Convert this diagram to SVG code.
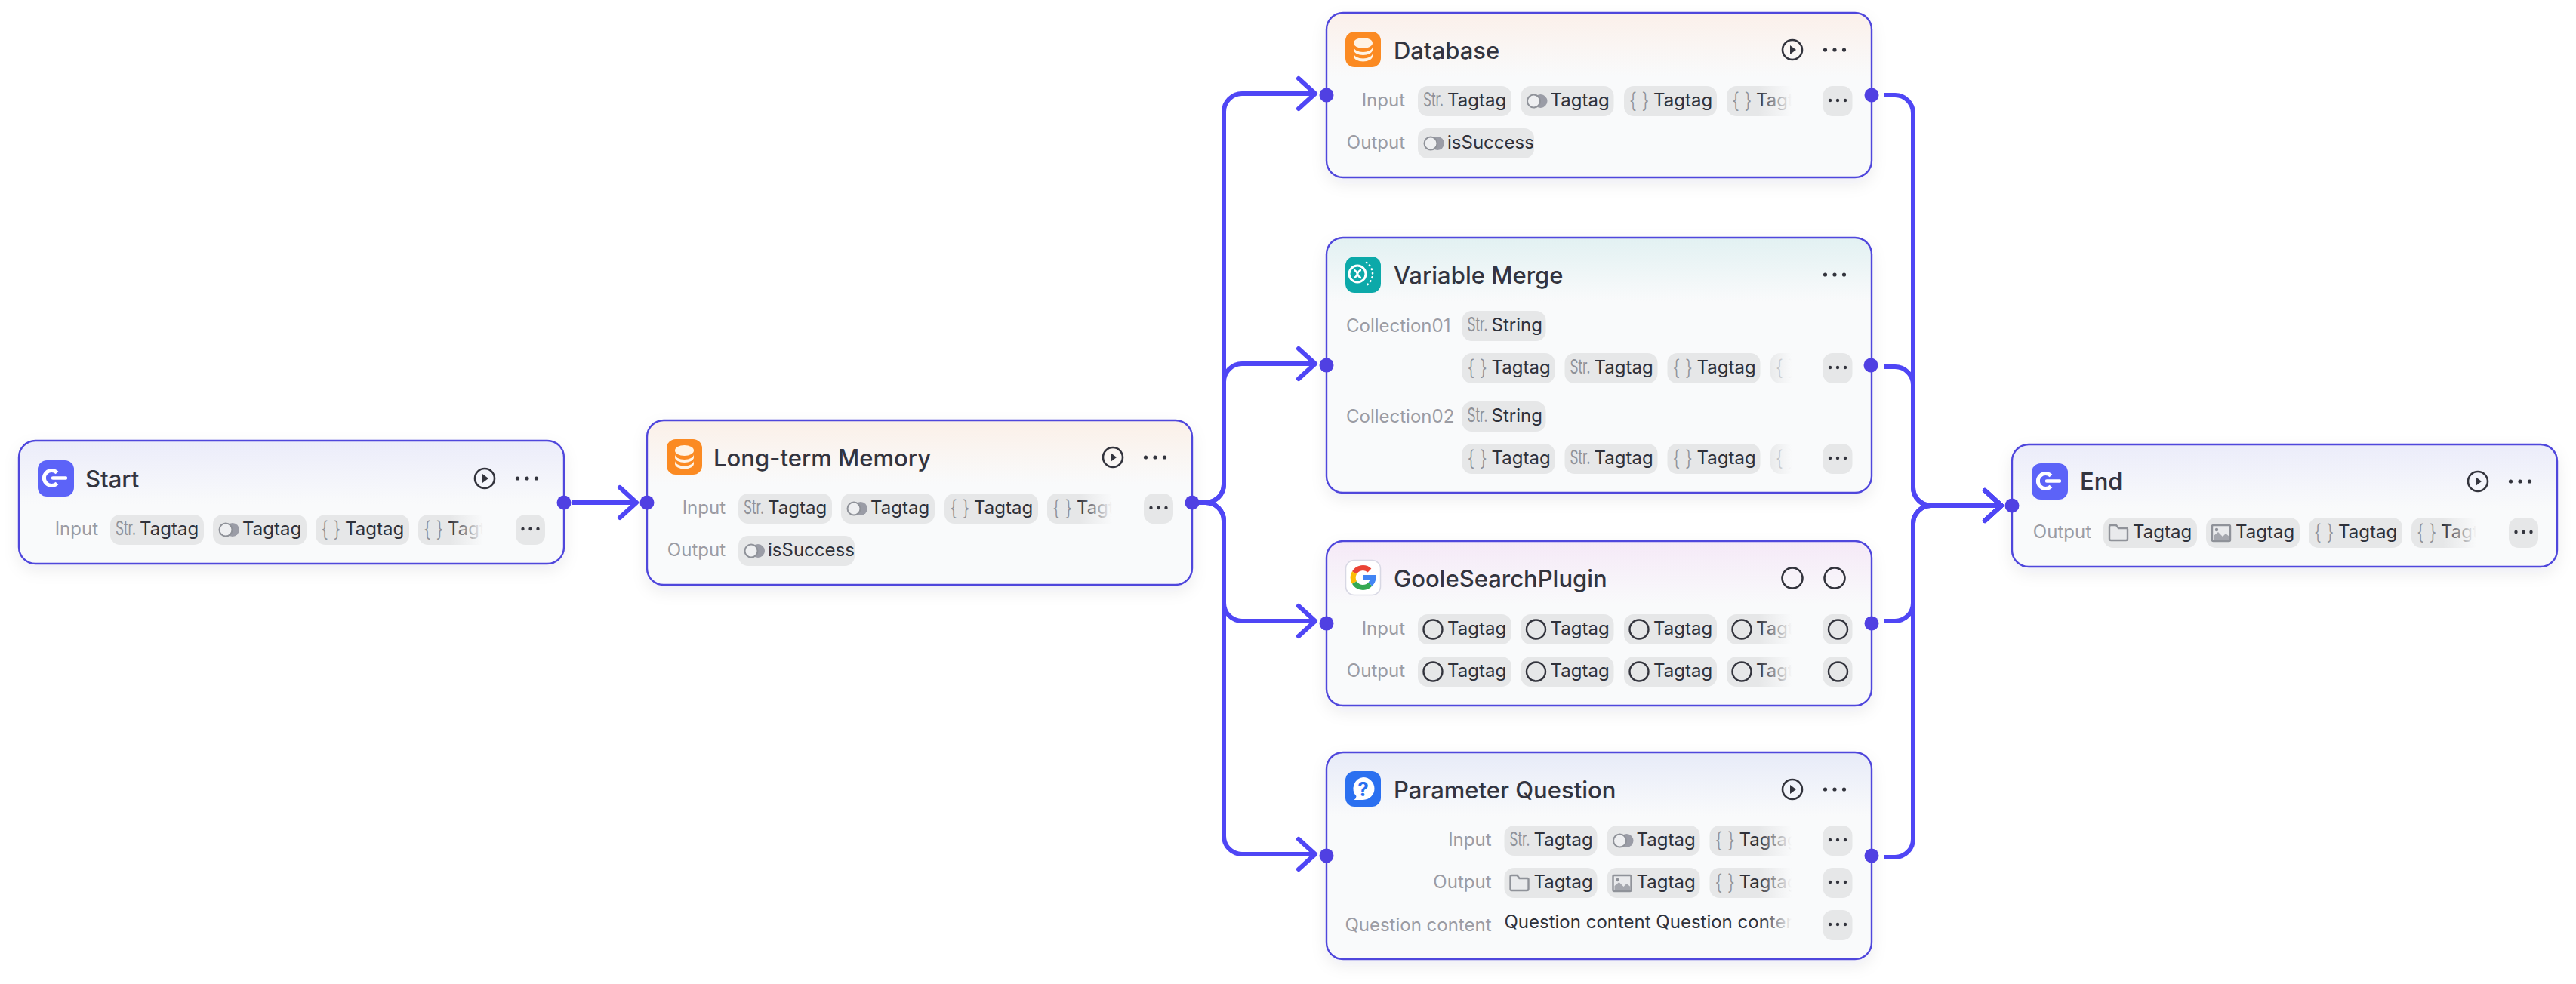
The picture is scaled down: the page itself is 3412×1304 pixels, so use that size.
<svg xmlns="http://www.w3.org/2000/svg" width="3412" height="1304" viewBox="0 0 3412 1304">
<style>
text{font-family:Inter,"Noto Sans","Liberation Sans",sans-serif}
.n{stroke:#5047dc;stroke-width:2.4;filter:url(#sh)}
.h{font-size:31px;fill:#33343f;font-weight:500}
.l{font-size:24px;fill:#9b9ca4;text-anchor:end}
.ls{font-size:24px;fill:#9b9ca4}
.c{fill:#e6e7e8;rx:13px}
.t{font-size:24px;fill:#2f313a}
.s{font-size:26px;fill:#8f9299;transform:scaleX(.66)}
.b{font-size:28px;fill:#8f9299;font-weight:300;transform:scaleX(.85)}
.f{fill:url(#fade)}
.p{fill:#5040e2}
.conn path{fill:none;stroke:#4f46f5;stroke-width:6}
.a{marker-end:url(#arrow)}
.g{fill:none;stroke-width:7}
</style>
<defs>
<filter id="sh" x="-10%" y="-20%" width="120%" height="150%"><feDropShadow dx="0" dy="8" stdDeviation="10" flood-color="#1e1e3c" flood-opacity=".07"/></filter>
<marker id="arrow" markerUnits="userSpaceOnUse" markerWidth="40" markerHeight="56" viewBox="-32 -28 40 56" refX="0" refY="0" orient="auto"><path d="M-22 -20L0 0L-22 20" fill="none" stroke="#4f46f5" stroke-width="6" stroke-linecap="round" stroke-linejoin="round"/></marker>
<linearGradient id="fade"><stop offset="0" stop-color="#f9fafb" stop-opacity="0"/><stop offset="1" stop-color="#f9fafb"/></linearGradient>
<linearGradient id="gs" gradientUnits="userSpaceOnUse" x1="0" x2="0" y1="584" y2="668"><stop offset="0" stop-color="#ebecfa"/><stop offset="1" stop-color="#f9fafb"/></linearGradient>
<linearGradient id="gm" gradientUnits="userSpaceOnUse" x1="0" x2="0" y1="557" y2="641"><stop offset="0" stop-color="#fbf0e8"/><stop offset="1" stop-color="#f9fafb"/></linearGradient>
<linearGradient id="gd" gradientUnits="userSpaceOnUse" x1="0" x2="0" y1="17" y2="101"><stop offset="0" stop-color="#fbf0ea"/><stop offset="1" stop-color="#f9fafb"/></linearGradient>
<linearGradient id="gv" gradientUnits="userSpaceOnUse" x1="0" x2="0" y1="315" y2="399"><stop offset="0" stop-color="#e2f1f2"/><stop offset="1" stop-color="#f9fafb"/></linearGradient>
<linearGradient id="gg" gradientUnits="userSpaceOnUse" x1="0" x2="0" y1="717" y2="801"><stop offset="0" stop-color="#f5e9f7"/><stop offset="1" stop-color="#f9fafb"/></linearGradient>
<linearGradient id="gp" gradientUnits="userSpaceOnUse" x1="0" x2="0" y1="997" y2="1081"><stop offset="0" stop-color="#e7ebf8"/><stop offset="1" stop-color="#f9fafb"/></linearGradient>
<linearGradient id="ge" gradientUnits="userSpaceOnUse" x1="0" x2="0" y1="589" y2="673"><stop offset="0" stop-color="#ebecfa"/><stop offset="1" stop-color="#f9fafb"/></linearGradient>
<clipPath id="c1"><rect x="0" y="0" width="640" height="1304"/></clipPath>
<clipPath id="c2"><rect x="0" y="0" width="1473" height="1304"/></clipPath>
<clipPath id="c3"><rect x="0" y="0" width="2373" height="1304"/></clipPath>
<clipPath id="c4"><rect x="0" y="0" width="3280" height="1304"/></clipPath>
<g id="tg"><circle cx="26" cy="20" r="9" fill="#9a9ca6"/><circle cx="17" cy="20" r="8.500" fill="#eeeff1" stroke="#8f9299" stroke-width="2"/></g>
<g id="play"><circle r="13" fill="none" stroke="#33343d" stroke-width="2.6"/><path d="M-3 -6L5 0L-3 6Z" fill="#33343d"/></g>
<g id="dots" fill="#33343d"><circle cx="-12.5" r="2.6"/><circle r="2.6"/><circle cx="12.5" r="2.6"/></g>
<g id="more" fill="#33343d"><rect class="c" width="39" height="40"/><circle cx="9.5" cy="19" r="2.2"/><circle cx="19.5" cy="19" r="2.2"/><circle cx="29.5" cy="19" r="2.2"/></g>
<circle id="ring" r="12.5" fill="none" stroke="#33343d" stroke-width="2.4"/>
<circle id="ringb" r="13.5" fill="none" stroke="#33343d" stroke-width="2.6"/>
<path id="folder" d="M8 12q0-2 2-2h7l3 4h11q1 0 1 1v13q0 2-2 2h-20q-2 0-2-2z" fill="#e9eaec" stroke="#8f9299" stroke-width="2.4"/>
<g id="pic"><rect x="8" y="10" width="24" height="21" rx="1.5" fill="#e9eaec" stroke="#8f9299" stroke-width="2.4"/><circle cx="14" cy="16" r="2.2" fill="#8f9299"/><path d="M10 29v-5l6-5 6 6 4-4 5 4v4z" fill="#a5a7ae"/></g>
<g id="ic-start"><rect width="48" height="48" rx="12" fill="#5c63f8"/><path d="M25.5 16.5A10 10 0 1 0 25.5 30.5" fill="none" stroke="#fff" stroke-width="5"/><path d="M20 23.5H37" stroke="#fff" stroke-width="4.5" stroke-linecap="round"/></g>
<g id="ic-db"><rect width="47" height="47" rx="12" fill="#fb8a22"/><ellipse cx="23.5" cy="15" rx="12.5" ry="7" fill="#fff3e4"/><path d="M11 20v4c0 4 6 7 12.5 7s12.5-3 12.5-7v-4c0 4-6 7-12.5 7s-12.5-3-12.5-7z" fill="#fff3e4"/><path d="M11 28.500v4c0 4 6 7 12.500 7s12.500-3 12.500-7v-4c0 4-6 7-12.500 7s-12.500-3-12.500-7z" fill="#fff3e4"/></g>
</defs>

<g id="connectors" class="conn">
<path class="a" d="M758 666H843"/>
<path class="a" d="M1585 666H1597A24 24 0 0 0 1621 642V148A24 24 0 0 1 1645 124H1742"/>
<path class="a" d="M1585 666H1597A24 24 0 0 0 1621 642V506A24 24 0 0 1 1645 482H1742"/>
<path class="a" d="M1585 666H1597A24 24 0 0 1 1621 690V799A24 24 0 0 0 1645 823H1742"/>
<path class="a" d="M1585 666H1597A24 24 0 0 1 1621 690V1108A24 24 0 0 0 1645 1132H1742"/>
<path class="a" d="M2496 126H2510A24 24 0 0 1 2534 150V646A24 24 0 0 0 2558 670H2651"/>
<path class="a" d="M2496 486H2510A24 24 0 0 1 2534 510V646A24 24 0 0 0 2558 670H2651"/>
<path class="a" d="M2496 823H2510A24 24 0 0 0 2534 799V694A24 24 0 0 1 2558 670H2651"/>
<path class="a" d="M2496 1136H2510A24 24 0 0 0 2534 1112V694A24 24 0 0 1 2558 670H2651"/>
</g>

<g id="node-start">
<rect class="n" x="25" y="584" width="722" height="163" rx="22" fill="url(#gs)"/>
<use href="#ic-start" x="50" y="610"/>
<text class="h" x="113" y="646">Start</text>
<use href="#play" x="642" y="634"/><use href="#dots" x="698" y="634"/>
<text class="l" x="130" y="709">Input</text>
<g clip-path="url(#c1)">
<g transform="translate(146 682)"><rect class="c" width="124" height="40"/><text class="s" x="10.600" y="27">Str.</text><text class="t" x="39" y="27">Tagtag</text></g>
<g transform="translate(282 682)"><rect class="c" width="124" height="40"/><use href="#tg"/><text class="t" x="39" y="27">Tagtag</text></g>
<g transform="translate(418 682)"><rect class="c" width="124" height="40"/><text class="b" x="8.200" y="29">{ }</text><text class="t" x="39" y="27">Tagtag</text></g>
<g transform="translate(554 682)"><rect class="c" width="124" height="40"/><text class="b" x="8.200" y="29">{ }</text><text class="t" x="39" y="27">Tagtag</text></g>
<rect class="f" x="596" y="682" width="44" height="40"/>
</g>
<use href="#more" x="683" y="682"/>
<circle class="p" cx="747" cy="666" r="9.500"/>
</g>

<g id="node-memory">
<rect class="n" x="857" y="557" width="722" height="218" rx="22" fill="url(#gm)"/>
<use href="#ic-db" x="883" y="582"/>
<text class="h" x="945" y="618">Long-term Memory</text>
<use href="#play" x="1474" y="606"/><use href="#dots" x="1530" y="606"/>
<text class="l" x="961" y="681">Input</text>
<g clip-path="url(#c2)">
<g transform="translate(978 654)"><rect class="c" width="124" height="40"/><text class="s" x="10.600" y="27">Str.</text><text class="t" x="39" y="27">Tagtag</text></g>
<g transform="translate(1114 654)"><rect class="c" width="124" height="40"/><use href="#tg"/><text class="t" x="39" y="27">Tagtag</text></g>
<g transform="translate(1251 654)"><rect class="c" width="124" height="40"/><text class="b" x="8.200" y="29">{ }</text><text class="t" x="39" y="27">Tagtag</text></g>
<g transform="translate(1387 654)"><rect class="c" width="124" height="40"/><text class="b" x="8.200" y="29">{ }</text><text class="t" x="39" y="27">Tagtag</text></g>
<rect class="f" x="1429" y="654" width="44" height="40"/>
</g>
<use href="#more" x="1515" y="654"/>
<text class="l" x="961" y="737">Output</text>
<g transform="translate(978 710)"><rect class="c" width="154" height="40"/><use href="#tg"/><text class="t" x="39" y="27">isSuccess</text></g>
<circle class="p" cx="857" cy="666" r="9.500"/><circle class="p" cx="1579" cy="666" r="9.500"/>
</g>

<g id="node-database">
<rect class="n" x="1757" y="17" width="722" height="218" rx="22" fill="url(#gd)"/>
<use href="#ic-db" x="1782" y="42"/>
<text class="h" x="1846" y="78">Database</text>
<use href="#play" x="2374" y="66"/><use href="#dots" x="2430" y="66"/>
<text class="l" x="1861" y="141">Input</text>
<g clip-path="url(#c3)">
<g transform="translate(1878 114)"><rect class="c" width="124" height="40"/><text class="s" x="10.600" y="27">Str.</text><text class="t" x="39" y="27">Tagtag</text></g>
<g transform="translate(2014.500 114)"><rect class="c" width="123" height="40"/><use href="#tg"/><text class="t" x="39" y="27">Tagtag</text></g>
<g transform="translate(2151 114)"><rect class="c" width="123" height="40"/><text class="b" x="8.200" y="29">{ }</text><text class="t" x="39" y="27">Tagtag</text></g>
<g transform="translate(2287 114)"><rect class="c" width="123" height="40"/><text class="b" x="8.200" y="29">{ }</text><text class="t" x="39" y="27">Tagtag</text></g>
<rect class="f" x="2329" y="114" width="44" height="40"/>
</g>
<use href="#more" x="2414.500" y="114"/>
<text class="l" x="1861" y="197">Output</text>
<g transform="translate(1878 170)"><rect class="c" width="154" height="40"/><use href="#tg"/><text class="t" x="39" y="27">isSuccess</text></g>
<circle class="p" cx="1757" cy="126" r="9.500"/><circle class="p" cx="2479" cy="126" r="9.500"/>
</g>

<g id="node-variable-merge">
<rect class="n" x="1757" y="315" width="722" height="338" rx="22" fill="url(#gv)"/>
<g transform="translate(1782 340)"><rect width="47" height="48" rx="12" fill="#0ca9a9"/><circle cx="16" cy="23" r="11" fill="none" stroke="#fff" stroke-width="3"/><path d="M11 18q3 0 5 5t5 5M21 18q-3 0-5 5t-5 5" fill="none" stroke="#fff" stroke-width="2.6"/><path d="M28 8A18 18 0 0 1 28 38" fill="none" stroke="#fff" stroke-width="2.6" stroke-linecap="round" stroke-dasharray="0.5 5"/></g>
<text class="h" x="1846" y="376">Variable Merge</text>
<use href="#dots" x="2430" y="364"/>
<text class="ls" x="1783" y="440">Collection01</text>
<g transform="translate(1936.500 412)"><rect class="c" width="111" height="40"/><text class="s" x="10.600" y="27">Str.</text><text class="t" x="39" y="27">String</text></g>
<g clip-path="url(#c3)">
<g transform="translate(1936.500 468)"><rect class="c" width="123" height="40"/><text class="b" x="8.200" y="29">{ }</text><text class="t" x="39" y="27">Tagtag</text></g>
<g transform="translate(2072.500 468)"><rect class="c" width="123" height="40"/><text class="s" x="10.600" y="27">Str.</text><text class="t" x="39" y="27">Tagtag</text></g>
<g transform="translate(2208.500 468)"><rect class="c" width="123" height="40"/><text class="b" x="8.200" y="29">{ }</text><text class="t" x="39" y="27">Tagtag</text></g>
<g transform="translate(2345 468)"><rect class="c" width="123" height="40"/><text class="b" x="8.200" y="29">{ }</text></g>
<rect class="f" x="2339" y="468" width="34" height="40"/>
</g>
<use href="#more" x="2414.500" y="468"/>
<text class="ls" x="1783" y="560">Collection02</text>
<g transform="translate(1936.500 532)"><rect class="c" width="111" height="40"/><text class="s" x="10.600" y="27">Str.</text><text class="t" x="39" y="27">String</text></g>
<g clip-path="url(#c3)">
<g transform="translate(1936.500 588)"><rect class="c" width="123" height="40"/><text class="b" x="8.200" y="29">{ }</text><text class="t" x="39" y="27">Tagtag</text></g>
<g transform="translate(2072.500 588)"><rect class="c" width="123" height="40"/><text class="s" x="10.600" y="27">Str.</text><text class="t" x="39" y="27">Tagtag</text></g>
<g transform="translate(2208.500 588)"><rect class="c" width="123" height="40"/><text class="b" x="8.200" y="29">{ }</text><text class="t" x="39" y="27">Tagtag</text></g>
<g transform="translate(2345 588)"><rect class="c" width="123" height="40"/><text class="b" x="8.200" y="29">{ }</text></g>
<rect class="f" x="2339" y="588" width="34" height="40"/>
</g>
<use href="#more" x="2414.500" y="588"/>
<circle class="p" cx="1757" cy="484" r="9.500"/><circle class="p" cx="2478" cy="484" r="9.500"/>
</g>

<g id="node-google-search">
<rect class="n" x="1757" y="717" width="722" height="218" rx="22" fill="url(#gg)"/>
<g transform="translate(1782 742)"><rect x="0.500" y="0.500" width="46" height="46" rx="11" fill="#fff" stroke="#d8d8e4" stroke-width="1.500"/>
<path class="g" stroke="#ea4335" d="M32 14A13 13 0 0 0 12 17"/><path class="g" stroke="#fbbc05" d="M12 17A13 13 0 0 0 12 30"/><path class="g" stroke="#34a853" d="M12 30A13 13 0 0 0 33 32"/><path class="g" stroke="#4285f4" d="M33 32A13 13 0 0 0 37 23.500H24"/></g>
<text class="h" x="1846" y="778">GooleSearchPlugin</text>
<use href="#ringb" x="2374" y="766"/><use href="#ringb" x="2430" y="766"/>
<text class="l" x="1861" y="841">Input</text>
<g clip-path="url(#c3)">
<g transform="translate(1878 814)"><rect class="c" width="124" height="40"/><use href="#ring" x="20" y="20"/><text class="t" x="39" y="27">Tagtag</text></g>
<g transform="translate(2014.500 814)"><rect class="c" width="123" height="40"/><use href="#ring" x="20" y="20"/><text class="t" x="39" y="27">Tagtag</text></g>
<g transform="translate(2151 814)"><rect class="c" width="123" height="40"/><use href="#ring" x="20" y="20"/><text class="t" x="39" y="27">Tagtag</text></g>
<g transform="translate(2287 814)"><rect class="c" width="123" height="40"/><use href="#ring" x="20" y="20"/><text class="t" x="39" y="27">Tagtag</text></g>
<rect class="f" x="2329" y="814" width="44" height="40"/>
</g>
<g transform="translate(2414.500 814)"><rect class="c" width="39" height="40"/><use href="#ring" x="20" y="20"/></g>
<text class="l" x="1861" y="897">Output</text>
<g clip-path="url(#c3)">
<g transform="translate(1878 870)"><rect class="c" width="124" height="40"/><use href="#ring" x="20" y="20"/><text class="t" x="39" y="27">Tagtag</text></g>
<g transform="translate(2014.500 870)"><rect class="c" width="123" height="40"/><use href="#ring" x="20" y="20"/><text class="t" x="39" y="27">Tagtag</text></g>
<g transform="translate(2151 870)"><rect class="c" width="123" height="40"/><use href="#ring" x="20" y="20"/><text class="t" x="39" y="27">Tagtag</text></g>
<g transform="translate(2287 870)"><rect class="c" width="123" height="40"/><use href="#ring" x="20" y="20"/><text class="t" x="39" y="27">Tagtag</text></g>
<rect class="f" x="2329" y="870" width="44" height="40"/>
</g>
<g transform="translate(2414.500 870)"><rect class="c" width="39" height="40"/><use href="#ring" x="20" y="20"/></g>
<circle class="p" cx="1757" cy="826" r="9.500"/><circle class="p" cx="2479" cy="826" r="9.500"/>
</g>

<g id="node-parameter-question">
<rect class="n" x="1757" y="997" width="722" height="274" rx="22" fill="url(#gp)"/>
<g transform="translate(1782 1022)"><rect width="47" height="47" rx="12" fill="#2b70f0"/><path d="M23.500 8a15 15 0 0 1 0 30h-12q3-2 3-5a15 15 0 0 1 9-25z" fill="#fff"/><text x="23.500" y="33" text-anchor="middle" font-size="26" font-weight="700" fill="#2b70f0">?</text></g>
<text class="h" x="1846" y="1058">Parameter Question</text>
<use href="#play" x="2374" y="1046"/><use href="#dots" x="2430" y="1046"/>
<text class="l" x="1975.500" y="1121">Input</text>
<g clip-path="url(#c3)">
<g transform="translate(1992.500 1094)"><rect class="c" width="123" height="40"/><text class="s" x="10.600" y="27">Str.</text><text class="t" x="39" y="27">Tagtag</text></g>
<g transform="translate(2128.500 1094)"><rect class="c" width="123" height="40"/><use href="#tg"/><text class="t" x="39" y="27">Tagtag</text></g>
<g transform="translate(2264.500 1094)"><rect class="c" width="123" height="40"/><text class="b" x="8.200" y="29">{ }</text><text class="t" x="39" y="27">Tagtag</text></g>
<rect class="f" x="2329" y="1094" width="44" height="40"/>
</g>
<use href="#more" x="2414.500" y="1094"/>
<text class="l" x="1975.500" y="1177">Output</text>
<g clip-path="url(#c3)">
<g transform="translate(1992.500 1150)"><rect class="c" width="123" height="40"/><use href="#folder"/><text class="t" x="39" y="27">Tagtag</text></g>
<g transform="translate(2128.500 1150)"><rect class="c" width="123" height="40"/><use href="#pic"/><text class="t" x="39" y="27">Tagtag</text></g>
<g transform="translate(2264.500 1150)"><rect class="c" width="123" height="40"/><text class="b" x="8.200" y="29">{ }</text><text class="t" x="39" y="27">Tagtag</text></g>
<rect class="f" x="2329" y="1150" width="44" height="40"/>
</g>
<use href="#more" x="2414.500" y="1150"/>
<text class="l" x="1975.500" y="1234">Question content</text>
<g clip-path="url(#c3)">
<text class="t" x="1992.500" y="1230">Question content Question content</text>
<rect class="f" x="2333" y="1206" width="40" height="40"/>
</g>
<use href="#more" x="2414.500" y="1206"/>
<circle class="p" cx="1757" cy="1134" r="9.500"/><circle class="p" cx="2479" cy="1134" r="9.500"/>
</g>

<g id="node-end">
<rect class="n" x="2665" y="589" width="722" height="162" rx="22" fill="url(#ge)"/>
<use href="#ic-start" x="2691" y="614"/>
<text class="h" x="2755" y="649">End</text>
<use href="#play" x="3282" y="638"/><use href="#dots" x="3338" y="638"/>
<text class="l" x="2770" y="713">Output</text>
<g clip-path="url(#c4)">
<g transform="translate(2786 686)"><rect class="c" width="124" height="40"/><use href="#folder"/><text class="t" x="39" y="27">Tagtag</text></g>
<g transform="translate(2922 686)"><rect class="c" width="124" height="40"/><use href="#pic"/><text class="t" x="39" y="27">Tagtag</text></g>
<g transform="translate(3058 686)"><rect class="c" width="124" height="40"/><text class="b" x="8.200" y="29">{ }</text><text class="t" x="39" y="27">Tagtag</text></g>
<g transform="translate(3194 686)"><rect class="c" width="124" height="40"/><text class="b" x="8.200" y="29">{ }</text><text class="t" x="39" y="27">Tagtag</text></g>
<rect class="f" x="3236" y="686" width="44" height="40"/>
</g>
<use href="#more" x="3323" y="686"/>
<circle class="p" cx="2665" cy="670" r="9.500"/>
</g>
</svg>
